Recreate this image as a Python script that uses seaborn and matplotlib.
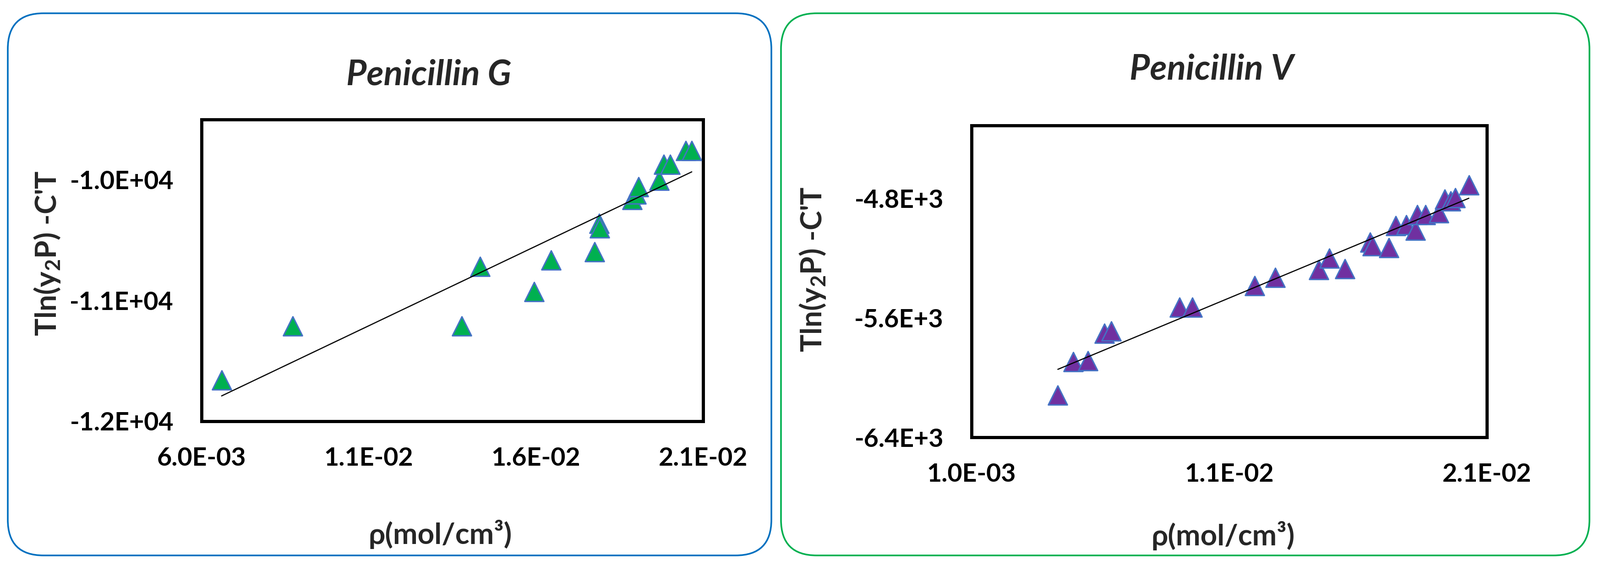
import numpy as np
import pandas as pd
import matplotlib
matplotlib.use("Agg")
import matplotlib.pyplot as plt
from matplotlib.patches import FancyBboxPatch
from matplotlib.transforms import IdentityTransform
import seaborn as sns

# Penicillin G: density (mol/cm3) vs Tln(y2P) - C'T
rho_g = [0.00660, 0.00873, 0.01378, 0.01433, 0.01594, 0.01645, 0.01776,
         0.01789, 0.01791, 0.01888, 0.01900, 0.01907, 0.01969, 0.01982,
         0.02001, 0.02048, 0.02066]
tln_g = [-11657, -11210, -11210, -10718, -10927, -10666, -10597,
         -10362, -10400, -10162, -10118, -10058, -10005, -9873,
         -9873, -9757, -9757]

# Penicillin V
rho_v = [0.00435, 0.00495, 0.00551, 0.00616, 0.00643, 0.00907, 0.00956,
         0.01199, 0.01278, 0.01447, 0.01488, 0.01549, 0.01647, 0.01655,
         0.01719, 0.01746, 0.01787, 0.01823, 0.01830, 0.01861, 0.01914,
         0.01936, 0.01959, 0.01977, 0.02030]
tln_v = [-6117, -5894, -5887, -5704, -5687, -5528, -5528,
         -5383, -5328, -5278, -5201, -5270, -5093, -5117,
         -5128, -4981, -4975, -5012, -4907, -4907, -4897,
         -4803, -4817, -4796, -4709]

xticks_g = [0.006, 0.011, 0.016, 0.021]
xticklabels_g = ["6.0E-03", "1.1E-02", "1.6E-02", "2.1E-02"]
yticks_g = [-12000, -11000, -10000]
yticklabels_g = ["-1.2E+04", "-1.1E+04", "-1.0E+04"]

xticks_v = [0.001, 0.011, 0.021]
xticklabels_v = ["1.0E-03", "1.1E-02", "2.1E-02"]
yticks_v = [-6400, -5600, -4800]
yticklabels_v = ["-6.4E+3", "-5.6E+3", "-4.8E+3"]

W, H = 3493, 1247
DPI = 100

sns.set_style("white")
plt.rcParams["font.family"] = ["Lato", "DejaVu Sans"]
plt.rcParams["mathtext.default"] = "regular"

fig = plt.figure(figsize=(W / DPI, H / DPI), dpi=DPI)
fig.patch.set_facecolor("white")


def px(x0, y0, x1, y1):
    # pixel box (top-left origin) -> figure fraction rect
    return [x0 / W, 1 - y1 / H, (x1 - x0) / W, (y1 - y0) / H]


panels = [
    dict(title="Penicillin G", x=rho_g, y=tln_g, fill="#00B050", frame="#0070C0",
         box=(17, 29, 1684, 1213), axes=(440, 261, 1535, 920),
         xlim=(0.006, 0.021), ylim=(-12000, -9500),
         xt=xticks_g, xtl=xticklabels_g, yt=yticks_g, ytl=yticklabels_g,
         title_xy=(936, 163), xlab_xy=(961, 1167), ylab_xy=(103, 553)),
    dict(title="Penicillin V", x=rho_v, y=tln_v, fill="#7030A0", frame="#00B050",
         box=(1705, 29, 3470, 1213), axes=(2121, 274, 3246, 955),
         xlim=(0.001, 0.021), ylim=(-6400, -4310),
         xt=xticks_v, xtl=xticklabels_v, yt=yticks_v, ytl=yticklabels_v,
         title_xy=(2645, 151), xlab_xy=(2670, 1170), ylab_xy=(1774, 588)),
]

for p in panels:
    bx0, by0, bx1, by1 = p["box"]
    frame = FancyBboxPatch((bx0, H - by1), bx1 - bx0, by1 - by0,
                           boxstyle="round,pad=0,rounding_size=78",
                           transform=IdentityTransform(), facecolor="white",
                           edgecolor=p["frame"], linewidth=2.6, zorder=0)
    fig.add_artist(frame)

    ax = fig.add_axes(px(*p["axes"]))
    ax.set_facecolor("white")
    df = pd.DataFrame({"rho": p["x"], "val": p["y"]})

    sns.scatterplot(data=df, x="rho", y="val", marker="^", s=900,
                    color=p["fill"], edgecolor="#4472C4", linewidth=2.2,
                    ax=ax, zorder=3, legend=False)
    sns.regplot(data=df, x="rho", y="val", scatter=False, ci=None,
                truncate=True, color="black",
                line_kws={"linewidth": 1.8, "zorder": 4}, ax=ax)

    ax.set_xlim(*p["xlim"])
    ax.set_ylim(*p["ylim"])
    ax.set_xticks(p["xt"])
    ax.set_xticklabels(p["xtl"], fontsize=40, fontweight="bold")
    ax.set_yticks(p["yt"])
    ax.set_yticklabels(p["ytl"], fontsize=40, fontweight="bold")
    ax.set_xlabel("")
    ax.set_ylabel("")
    ax.tick_params(axis="both", direction="in", length=13, width=1.8,
                   color="black", labelcolor="black")
    ax.tick_params(axis="x", pad=40)
    ax.tick_params(axis="y", pad=44)
    for s in ax.spines.values():
        s.set_visible(True)
        s.set_linewidth(5)
        s.set_color("black")

    tx, ty = p["title_xy"]
    fig.text(tx / W, 1 - ty / H, p["title"], ha="center", va="center",
             fontsize=55, fontweight="bold", fontstyle="italic")
    lx, ly = p["xlab_xy"]
    fig.text(lx / W, 1 - ly / H, "ρ(mol/cm³)", ha="center", va="center",
             fontsize=46, fontweight="bold")
    yx, yy = p["ylab_xy"]
    fig.text(yx / W, 1 - yy / H, r"Tln(y$_2$P) -C'T", ha="center",
             va="center", rotation=90, fontsize=46, fontweight="bold")

fig.savefig("out.png", dpi=DPI, facecolor="white")
